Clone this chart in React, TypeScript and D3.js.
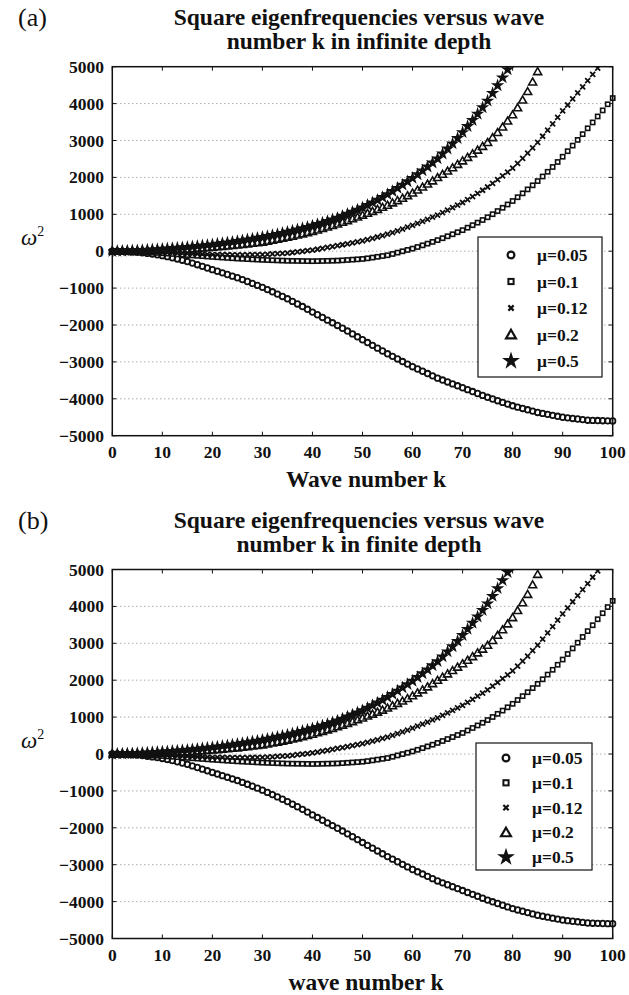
import { useEffect, useRef } from "react";
import * as d3 from "d3";

// wave number k for every marker (one per integer k)
const kValues = d3.range(0, 101);

// omega^2, index = k
const mu005 = [
  0, -2, -6, -12, -20, -30, -44, -60, -78, -98, -120, -148, -178, -210, -244, -280, -322, -366, -410, -455,
  -500, -543, -587, -631, -676, -720, -770, -821, -873, -926, -980, -1040, -1100, -1162, -1226, -1290, -1360,
  -1430, -1500, -1575, -1650, -1722, -1795, -1868, -1940, -2012, -2088, -2164, -2241, -2320, -2400, -2476,
  -2552, -2628, -2704, -2780, -2850, -2920, -2990, -3060, -3130, -3192, -3254, -3316, -3378, -3440, -3492,
  -3544, -3596, -3648, -3700, -3752, -3804, -3856, -3908, -3960, -4006, -4052, -4098, -4144, -4190, -4226,
  -4262, -4298, -4334, -4370, -4396, -4422, -4448, -4474, -4500, -4516, -4532, -4548, -4564, -4580, -4585,
  -4590, -4594, -4597, -4600,
];
const mu01 = [
  0, -2, -5, -8, -11, -15, -23, -31, -39, -47, -55, -65, -75, -85, -95, -105, -115, -125, -135, -145, -155,
  -164, -173, -182, -191, -200, -207, -214, -221, -228, -235, -240, -245, -250, -255, -260, -262, -264, -266,
  -268, -270, -268, -265, -262, -259, -255, -247, -238, -229, -220, -210, -193, -173, -152, -131, -110, -75,
  -38, -2, 34, 70, 114, 159, 205, 252, 300, 352, 405, 459, 514, 570, 637, 705, 774, 846, 920, 1003, 1088,
  1176, 1266, 1360, 1463, 1568, 1675, 1786, 1900, 2025, 2152, 2282, 2418, 2560, 2710, 2862, 3016, 3172, 3330,
  3490, 3652, 3816, 3982, 4150,
];
const mu012 = [
  0, -1, -3, -5, -7, -10, -15, -20, -25, -30, -35, -41, -47, -53, -59, -65, -70, -75, -80, -85, -90, -92, -94,
  -96, -98, -100, -99, -97, -95, -93, -90, -83, -75, -67, -59, -50, -35, -19, -3, 13, 30, 53, 77, 101, 125,
  150, 175, 201, 227, 253, 280, 314, 349, 385, 422, 460, 506, 553, 601, 650, 700, 754, 809, 865, 922, 980,
  1045, 1112, 1180, 1250, 1320, 1400, 1482, 1566, 1652, 1740, 1838, 1938, 2040, 2144, 2250, 2382, 2517, 2655,
  2800, 2950, 3115, 3283, 3453, 3625, 3800, 3962, 4126, 4290, 4455, 4620, 4790, 4960,
];
const mu02 = [
  0, 2, 4, 6, 8, 10, 14, 18, 22, 26, 30, 36, 42, 48, 54, 60, 70, 80, 90, 100, 110, 122, 134, 146, 158, 170,
  186, 202, 218, 234, 250, 274, 300, 326, 353, 380, 410, 441, 473, 506, 540, 578, 617, 657, 698, 740, 786,
  833, 881, 930, 980, 1031, 1083, 1137, 1193, 1250, 1312, 1375, 1440, 1508, 1580, 1660, 1741, 1823, 1910,
  2000, 2087, 2175, 2265, 2357, 2450, 2545, 2643, 2743, 2845, 2950, 3080, 3220, 3370, 3530, 3700, 3890, 4100,
  4330, 4590, 4870,
];
const mu05 = [
  0, 3, 7, 11, 15, 20, 27, 35, 43, 51, 60, 69, 79, 89, 99, 110, 123, 137, 151, 165, 180, 197, 214, 232, 251,
  270, 291, 313, 335, 357, 380, 406, 433, 461, 490, 520, 552, 585, 619, 654, 690, 729, 769, 811, 855, 900,
  953, 1008, 1064, 1121, 1180, 1248, 1318, 1389, 1463, 1540, 1624, 1710, 1798, 1888, 1980, 2080, 2183, 2288,
  2397, 2510, 2640, 2775, 2915, 3060, 3220, 3385, 3550, 3720, 3895, 4075, 4280, 4490, 4705, 4925,
];

const seriesLabels = ["μ=0.05", "μ=0.1", "μ=0.12", "μ=0.2", "μ=0.5"];
const seriesValues = [mu005, mu01, mu012, mu02, mu05];
const xTicks = [0, 10, 20, 30, 40, 50, 60, 70, 80, 90, 100];
const yTicks = [-5000, -4000, -3000, -2000, -1000, 0, 1000, 2000, 3000, 4000, 5000];

const panels = [
  {
    tag: "(a)",
    title: ["Square eigenfrequencies versus wave", "number k in infinite depth"],
    xLabel: "Wave number k",
    top: 66.7,
    legend: { x0: 478, x1: 602, y0: 237, y1: 377, first: 255, step: 26.5, sym: 511, txt: 537 },
  },
  {
    tag: "(b)",
    title: ["Square eigenfrequencies versus wave", "number k in finite depth"],
    xLabel: "wave number k",
    top: 569.5,
    legend: { x0: 476, x1: 592, y0: 743, y1: 870, first: 758, step: 24.8, sym: 506, txt: 532 },
  },
];

const W = 629;
const H = 995;
const left = 112.3;
const right = 612.7;
const plotH = 369;
const serif = "'Liberation Serif', 'Times New Roman', serif";
const ink = "#111";

function drawMarker(g: any, kind: number, x: number, y: number) {
  if (kind === 0) {
    g.append("circle").attr("cx", x).attr("cy", y).attr("r", 2.8)
      .attr("fill", "none").attr("stroke", ink).attr("stroke-width", 1.8);
  } else if (kind === 1) {
    g.append("rect").attr("x", x - 2.1).attr("y", y - 2.1).attr("width", 4.2).attr("height", 4.2)
      .attr("fill", "#fff").attr("stroke", ink).attr("stroke-width", 1.6);
  } else if (kind === 2) {
    g.append("path").attr("transform", `translate(${x},${y})`)
      .attr("d", d3.symbol().type(d3.symbolTimes).size(18)())
      .attr("fill", "none").attr("stroke", ink).attr("stroke-width", 1.8);
  } else if (kind === 3) {
    g.append("path").attr("transform", `translate(${x},${y + 0.8})`)
      .attr("d", d3.symbol().type(d3.symbolTriangle2).size(46)())
      .attr("fill", "none").attr("stroke", ink).attr("stroke-width", 1.6);
  } else {
    g.append("path").attr("transform", `translate(${x},${y})`)
      .attr("d", d3.symbol().type(d3.symbolStar).size(56)())
      .attr("fill", ink);
  }
}

export default function App() {
  const svgRef = useRef<SVGSVGElement>(null);

  useEffect(() => {
    if (!svgRef.current) return;
    const svg = d3.select(svgRef.current);
    svg.selectAll("*").remove();

    const x = d3.scaleLinear().domain([0, 100]).range([left, right]);

    panels.forEach((p, pi) => {
      const bottom = p.top + plotH;
      const y = d3.scaleLinear().domain([-5000, 5000]).range([bottom, p.top]);
      const g = svg.append("g");
      const clipId = `clip${pi}`;
      svg.append("defs").append("clipPath").attr("id", clipId)
        .append("rect").attr("x", left - 4).attr("y", p.top).attr("width", right - left + 8).attr("height", plotH + 4);

      // tag + title
      g.append("text").attr("x", 18).attr("y", p.top - 41).attr("font-family", serif)
        .attr("font-size", 26).attr("fill", ink).text(p.tag);
      p.title.forEach((line, i) => {
        g.append("text").attr("x", 359).attr("y", p.top - 42 + i * 24.5).attr("text-anchor", "middle")
          .attr("font-family", serif).attr("font-weight", "bold").attr("font-size", 23.5).attr("fill", ink)
          .text(line);
      });

      // dotted grid
      yTicks.filter((t) => t > -5000 && t < 5000).forEach((t) => {
        g.append("line").attr("x1", left).attr("x2", right).attr("y1", y(t)).attr("y2", y(t))
          .attr("stroke", "#888").attr("stroke-width", 1).attr("stroke-dasharray", "1,3");
      });

      // ticks (inward on all sides)
      xTicks.forEach((t) => {
        g.append("line").attr("x1", x(t)).attr("x2", x(t)).attr("y1", bottom).attr("y2", bottom - 4)
          .attr("stroke", ink);
        g.append("line").attr("x1", x(t)).attr("x2", x(t)).attr("y1", p.top).attr("y2", p.top + 4)
          .attr("stroke", ink);
        g.append("text").attr("x", x(t)).attr("y", bottom + 22).attr("text-anchor", "middle")
          .attr("font-family", serif).attr("font-weight", "bold").attr("font-size", 17.5).attr("fill", ink)
          .text(t);
      });
      yTicks.forEach((t) => {
        g.append("line").attr("x1", left).attr("x2", left + 4).attr("y1", y(t)).attr("y2", y(t)).attr("stroke", ink);
        g.append("line").attr("x1", right).attr("x2", right - 4).attr("y1", y(t)).attr("y2", y(t)).attr("stroke", ink);
        g.append("text").attr("x", 104).attr("y", y(t) + 6).attr("text-anchor", "end")
          .attr("font-family", serif).attr("font-weight", "bold").attr("font-size", 17.5).attr("fill", ink)
          .text(t < 0 ? `\u2212${Math.abs(t)}` : `${t}`);
      });

      // markers
      const mg = g.append("g").attr("clip-path", `url(#${clipId})`);
      seriesValues.forEach((vals, si) => {
        vals.forEach((v, i) => drawMarker(mg, si, x(kValues[i]), y(v)));
      });

      // frame
      g.append("rect").attr("x", left).attr("y", p.top).attr("width", right - left).attr("height", plotH)
        .attr("fill", "none").attr("stroke", ink).attr("stroke-width", 1.5);

      // axis labels
      g.append("text").attr("x", 366).attr("y", bottom + 51.5).attr("text-anchor", "middle")
        .attr("font-family", serif).attr("font-weight", "bold").attr("font-size", 23.5).attr("fill", ink)
        .text(p.xLabel);
      const yl = g.append("text").attr("x", 21).attr("y", y(0) - 6).attr("font-family", serif)
        .attr("font-size", 23).attr("fill", ink);
      yl.append("tspan").attr("font-style", "italic").text("ω");
      yl.append("tspan").attr("font-size", 14).attr("dy", -9).text("2");

      // legend
      const L = p.legend;
      g.append("rect").attr("x", L.x0).attr("y", L.y0).attr("width", L.x1 - L.x0).attr("height", L.y1 - L.y0)
        .attr("fill", "#fff").attr("stroke", ink).attr("stroke-width", 1.2);
      seriesLabels.forEach((lab, i) => {
        const cy = L.first + i * L.step;
        const lg = g.append("g");
        if (i === 0) {
          lg.append("circle").attr("cx", L.sym).attr("cy", cy).attr("r", 3.4)
            .attr("fill", "none").attr("stroke", ink).attr("stroke-width", 2.2);
        } else if (i === 1) {
          lg.append("rect").attr("x", L.sym - 2.6).attr("y", cy - 2.6).attr("width", 5.2).attr("height", 5.2)
            .attr("fill", "#fff").attr("stroke", ink).attr("stroke-width", 2);
        } else if (i === 2) {
          lg.append("path").attr("transform", `translate(${L.sym},${cy})`)
            .attr("d", d3.symbol().type(d3.symbolTimes).size(20)())
            .attr("fill", "none").attr("stroke", ink).attr("stroke-width", 2.2);
        } else if (i === 3) {
          lg.append("path").attr("transform", `translate(${L.sym},${cy + 1})`)
            .attr("d", d3.symbol().type(d3.symbolTriangle2).size(70)())
            .attr("fill", "none").attr("stroke", ink).attr("stroke-width", 2.2);
        } else {
          lg.append("path").attr("transform", `translate(${L.sym},${cy})`)
            .attr("d", d3.symbol().type(d3.symbolStar).size(100)())
            .attr("fill", ink);
        }
        g.append("text").attr("x", L.txt).attr("y", cy + 6).attr("font-family", serif)
          .attr("font-weight", "bold").attr("font-size", 17.5).attr("fill", ink).text(lab);
      });
    });
  }, []);

  return (
    <svg
      ref={svgRef}
      width={W}
      height={H}
      style={{ position: "absolute", left: 0, top: 0, background: "#fff" }}
    />
  );
}
